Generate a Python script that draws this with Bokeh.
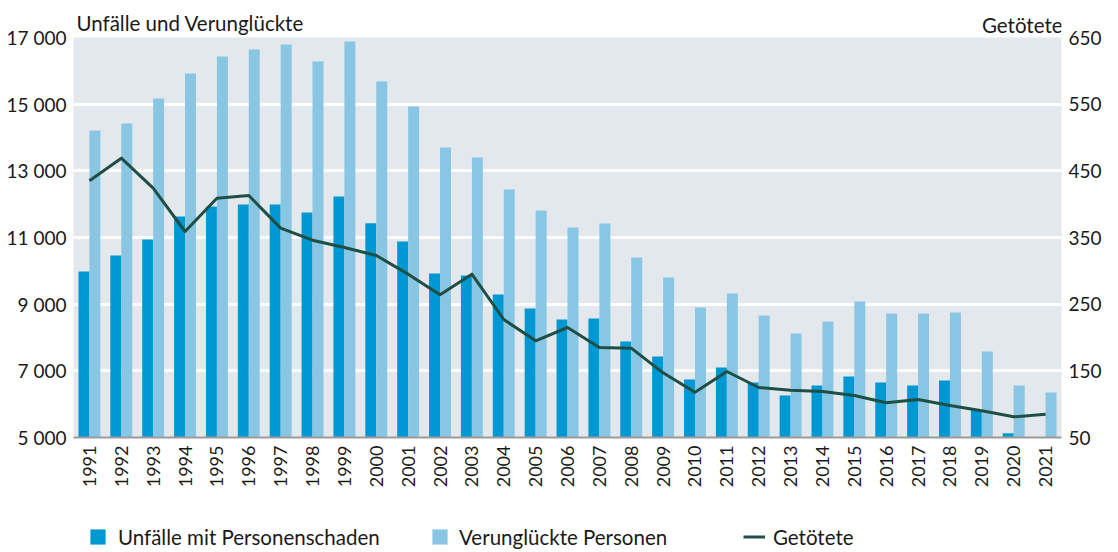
import math
from bokeh.plotting import figure
from bokeh.layouts import column
from bokeh.models import (FactorRange, Range1d, LinearAxis, FixedTicker, BoxAnnotation,
                          ColumnDataSource, Legend, LegendItem, Label)
from bokeh.transform import dodge
from bokeh.embed import file_html
from bokeh.resources import INLINE

years = [str(y) for y in range(1991, 2022)]
unfaelle = [9980, 10460, 10940, 11630, 11930, 11990, 11990, 11750, 12230, 11430,
            10880, 9920, 9860, 9290, 8870, 8540, 8570, 7880, 7430, 6740,
            7100, 6650, 6260, 6560, 6830, 6650, 6560, 6710, 5830, 5130, float("nan")]
verunglueckte = [14210, 14420, 15170, 15920, 16430, 16640, 16790, 16280, 16880, 15680,
                 14930, 13700, 13400, 12440, 11810, 11300, 11420, 10400, 9800, 8900,
                 9320, 8660, 8120, 8480, 9080, 8720, 8720, 8750, 7580, 6560, 6350]
getoetete = [435, 469, 424, 359, 409, 413, 364, 346, 335, 323,
             295, 264, 295, 227, 195, 215, 185, 184, 147, 118,
             149, 125, 121, 119, 113, 102, 107, 98, 90, 81, 85]

left_ticks = [5000, 7000, 9000, 11000, 13000, 15000, 17000]
right_ticks = [50, 150, 250, 350, 450, 550, 650]

FONT = "Lato"
TXT = "#1a1a1a"
DARK = "#0098d3"
LIGHT = "#88c6e3"
LINE = "#1f4e45"
BG = "#e3e8ec"
W = 1104
FL, FR = 73, 1063          # frame left / right (px)
BL, BR = FL, W - FR

# plot area 5000..17000 spans 400 px; the frame extends above it for the titles
TOP_BORDER = 4
PLOT_TOP = 37
EXTRA_PX = PLOT_TOP - TOP_BORDER
L_PER_PX = (17000 - 5000) / 400
R_PER_PX = (650 - 50) / 400
MAIN_H = TOP_BORDER + EXTRA_PX + 400 + 55

src = ColumnDataSource(dict(years=years, unf=unfaelle, ver=verunglueckte, get=getoetete))

p = figure(x_range=FactorRange(*years),
           y_range=Range1d(5000, 17000 + EXTRA_PX * L_PER_PX),
           width=W, height=MAIN_H,
           output_backend="svg", toolbar_location=None,
           min_border_left=BL, min_border_right=BR, min_border_top=TOP_BORDER,
           min_border_bottom=55,
           background_fill_color="white", border_fill_color="white",
           outline_line_color=None)
p.extra_y_ranges = {"right": Range1d(50, 650 + EXTRA_PX * R_PER_PX)}

# grey plot area (5 000 .. 17 000); the zone above stays white for the titles
p.add_layout(BoxAnnotation(left=-2, right=len(years) + 2, bottom=-40000, top=17000,
                           fill_color=BG, fill_alpha=1, line_color=None, level="image"))

p.vbar(x=dodge("years", -0.172, range=p.x_range), top="unf", bottom=5000, width=0.344,
       source=src, fill_color=DARK, line_color=None)
p.vbar(x=dodge("years", 0.172, range=p.x_range), top="ver", bottom=5000, width=0.344,
       source=src, fill_color=LIGHT, line_color=None)
p.line(x="years", y="get", source=src, y_range_name="right",
       line_color=LINE, line_width=3, line_join="round")

p.xgrid.grid_line_color = None
p.ygrid.ticker = FixedTicker(ticks=left_ticks[1:-1])
p.ygrid.grid_line_color = "white"
p.ygrid.grid_line_width = 3

def style_axis(ax, size, standoff):
    ax.major_tick_line_color = None
    ax.minor_tick_line_color = None
    ax.major_tick_out = 0
    ax.major_tick_in = 0
    ax.minor_tick_out = 0
    ax.minor_tick_in = 0
    ax.major_label_standoff = standoff
    ax.major_label_text_font = FONT
    ax.major_label_text_font_size = size
    ax.major_label_text_color = TXT

ya = p.yaxis[0]
ya.ticker = FixedTicker(ticks=left_ticks)
ya.major_label_overrides = {t: f"{t:,}".replace(",", " ") for t in left_ticks}
ya.axis_line_color = None
style_axis(ya, "19px", 7)

ra = LinearAxis(y_range_name="right", ticker=FixedTicker(ticks=right_ticks))
ra.axis_line_color = None
style_axis(ra, "19px", 7)
p.add_layout(ra, "right")

xa = p.xaxis[0]
xa.axis_line_color = "#9b9b9b"
xa.axis_line_width = 2
xa.major_label_orientation = math.pi / 2
style_axis(xa, "18px", 8)

# axis titles (inside the frame's white title zone)
p.add_layout(Label(x=3, y=17000 + (PLOT_TOP - 22) * L_PER_PX, x_units="screen",
                   text="Unfälle und Verunglückte", text_font=FONT, text_font_size="20.5px",
                   text_color=TXT, text_baseline="middle", text_align="left"))
p.add_layout(Label(x=FR - FL - 1, y=17000 + (PLOT_TOP - 24.5) * L_PER_PX, x_units="screen",
                   text="Getötete", text_font=FONT, text_font_size="20.5px",
                   text_color=TXT, text_baseline="middle", text_align="right"))

# ---------- legend strip ----------
LH = 58
leg = figure(width=W, height=LH, x_range=Range1d(FL, FR), y_range=Range1d(0, LH),
             output_backend="svg", toolbar_location=None, x_axis_type=None, y_axis_type=None,
             min_border_left=BL, min_border_right=BR, min_border_top=0, min_border_bottom=0,
             outline_line_color=None, background_fill_color="white")
leg.grid.grid_line_color = None
# swatch renderers: one point each, placed outside the visible strip
g1 = leg.vbar(x=[0], top=[-100], bottom=[-200], width=1, fill_color=DARK, line_color=None)
g2 = leg.vbar(x=[0], top=[-100], bottom=[-200], width=1, fill_color=LIGHT, line_color=None)
g3 = leg.line(x=[0, 1], y=[-100, -100], line_color=LINE, line_width=3)

def mk_legend(label, rend, x, gw, standoff):
    lg = Legend(items=[LegendItem(label=label, renderers=[rend])], location=(x - FL, 1.5),
                orientation="horizontal", glyph_width=gw, glyph_height=19, label_height=19,
                label_standoff=standoff, padding=0, margin=0, border_line_color=None,
                background_fill_alpha=0, label_text_font=FONT, label_text_font_size="20.5px",
                label_text_color=TXT)
    leg.add_layout(lg, "center")

mk_legend("Unfälle mit Personenschaden", g1, 88, 19, 11)
mk_legend("Verunglückte Personen", g2, 430, 19, 10)
mk_legend("Getötete", g3, 743, 22, 8)

layout = column(p, leg, spacing=0)
open("out.html", "w").write(file_html(layout, INLINE))
